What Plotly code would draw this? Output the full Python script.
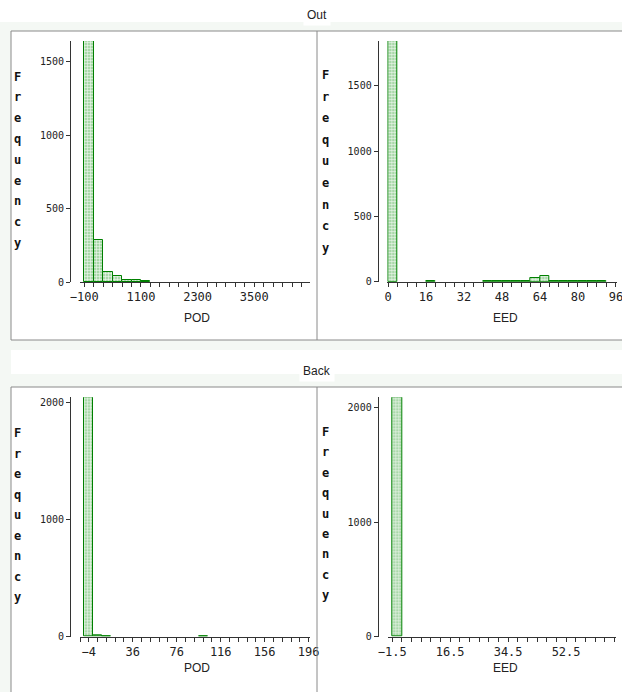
import plotly.graph_objects as go

W, H = 622, 692

# ---------------- data ----------------
out_pod_centers = [0, 200, 400, 600, 800, 1000, 1200]
out_pod_counts = [1640, 285, 65, 43, 15, 15, 6]
out_pod_width = 200

out_eed_centers = [2, 18, 42, 46, 50, 54, 58, 62, 66, 70, 74, 78, 82, 86, 90]
out_eed_counts = [1843, 3, 3, 3, 6, 6, 3, 25, 45, 8, 3, 3, 3, 3, 3]
out_eed_width = 4

back_pod_centers = [-4, 4, 12, 100]
back_pod_counts = [2045, 12, 5, 5]
back_pod_width = 8

back_eed_centers = [0]
back_eed_counts = [2090]
back_eed_width = 3

out_pod_ticks = [-100, 1100, 2300, 3500]
out_eed_ticks = [0, 16, 32, 48, 64, 80, 96]
back_pod_ticks = [-4, 36, 76, 116, 156, 196]
back_eed_ticks = [-1.5, 16.5, 34.5, 52.5]
out_y_ticks = [0, 500, 1000, 1500]
back_y_ticks = [0, 1000, 2000]

# ---------------- helpers ----------------
def px(x):
    return x / W

def py(y):
    return 1 - y / H

BAR_FILL = "#a9d8a9"
BAR_LINE = "#008000"
AX = "#333333"
TICKFONT = dict(family="DejaVu Sans Mono", size=10, color="#222222")
XTICKFONT = dict(family="DejaVu Sans Mono", size=12, color="#222222")

fig = go.Figure()

panels = [
    (out_pod_centers, out_pod_counts, out_pod_width, "x", "y", (80, 310), (282, 41), 70,
     [-191, 4680], [0, 1640], out_pod_ticks, out_y_ticks, 200, -100),
    (out_eed_centers, out_eed_counts, out_eed_width, "x2", "y2", (387.3, 616.7), (281.7, 41), 377.7,
     [-0.3, 96.3], [0, 1843], out_eed_ticks, out_y_ticks, 4, 0),
    (back_pod_centers, back_pod_counts, back_pod_width, "x3", "y3", (80, 310), (636.7, 397.3), 70,
     [-12, 197.2], [0, 2045], back_pod_ticks, back_y_ticks, 8, -4),
    (back_eed_centers, back_eed_counts, back_eed_width, "x4", "y4", (388.3, 616), (636.7, 397.3), 377.7,
     [-2.7, 68], [0, 2090], back_eed_ticks, back_y_ticks, 3, -1.5),
]

def fmt(v):
    s = ("%g" % abs(v))
    return ("−" + s) if v < 0 else s

layout_axes = {}
for i, (cx, cy, wd, xa, ya, xd, yd, ypos, xr, yr, xt, yt, mdt, m0) in enumerate(panels):
    fig.add_trace(go.Bar(
        x=cx, y=cy, width=[wd] * len(cx), xaxis=xa, yaxis=ya,
        marker=dict(color=BAR_FILL, line=dict(color=BAR_LINE, width=1),
                    pattern=dict(shape="+", fgcolor="#eef8ee", bgcolor=BAR_FILL, size=3, solidity=0.35)),
        showlegend=False, hoverinfo="skip"))
    xname = "xaxis" if xa == "x" else "xaxis" + xa[1:]
    yname = "yaxis" if ya == "y" else "yaxis" + ya[1:]
    layout_axes[xname] = dict(
        domain=[px(xd[0]), px(xd[1])], anchor=ya, range=xr, showgrid=False, zeroline=False,
        showline=True, linecolor=AX, linewidth=1, ticks="outside", ticklen=4, tickcolor=AX,
        tickmode="array", tickvals=xt, ticktext=[fmt(v) for v in xt],
        tickfont=XTICKFONT, automargin=False, ticklabeloverflow="allow",
        minor=dict(ticks="outside", ticklen=4, tickcolor=AX, tick0=m0, dtick=mdt, showgrid=False),
        fixedrange=True)
    layout_axes[yname] = dict(
        domain=[py(yd[0]), py(yd[1])], anchor="free", position=px(ypos), range=yr,
        showgrid=False, zeroline=False, showline=True, linecolor=AX, linewidth=1,
        ticks="outside", ticklen=4, tickcolor=AX, tickmode="array", tickvals=yt,
        ticktext=[fmt(v) for v in yt], tickfont=TICKFONT, automargin=False, fixedrange=True)

fig.update_layout(**layout_axes)

# ---------------- background, frames ----------------
TINT = "#f4f8f4"
FRAME = "#8a8a8a"
shapes = []
for (x0, y0, x1, y1) in [(0, 22, W, 31), (0, 22, 11, H), (0, 340, W, 350), (0, 374, W, 387)]:
    shapes.append(dict(type="rect", xref="paper", yref="paper", x0=px(x0), x1=px(x1), y0=py(y1), y1=py(y0),
                       fillcolor=TINT, line=dict(width=0), layer="below"))
shapes.append(dict(type="rect", xref="paper", yref="paper", x0=px(11), x1=px(W + 5), y0=py(340), y1=py(31),
                   line=dict(color=FRAME, width=1), fillcolor="rgba(0,0,0,0)", layer="below"))
shapes.append(dict(type="line", xref="paper", yref="paper", x0=px(317), x1=px(317), y0=py(340), y1=py(31),
                   line=dict(color=FRAME, width=1)))
shapes.append(dict(type="rect", xref="paper", yref="paper", x0=px(11), x1=px(W + 5), y0=py(H + 5), y1=py(387),
                   line=dict(color=FRAME, width=1), fillcolor="rgba(0,0,0,0)", layer="below"))
shapes.append(dict(type="line", xref="paper", yref="paper", x0=px(317), x1=px(317), y0=py(H + 5), y1=py(387),
                   line=dict(color=FRAME, width=1)))

annotations = []
TITLEFONT = dict(family="Liberation Sans", size=12, color="#222222")
for text, x, y in [("Out", 317, 15), ("Back", 317, 371)]:
    annotations.append(dict(text=text, x=px(x), y=py(y), xref="paper", yref="paper", showarrow=False,
                            font=TITLEFONT, xanchor="center", yanchor="middle", bgcolor="white",
                            borderpad=3))
for text, x, y in [("POD", 196.7, 318), ("EED", 505, 318), ("POD", 196.7, 668), ("EED", 505, 668)]:
    annotations.append(dict(text=text, x=px(x), y=py(y), xref="paper", yref="paper", showarrow=False,
                            font=TITLEFONT, xanchor="center", yanchor="middle"))

ylabel = "Frequency"
for (x, ytop, ybot) in [(17, 76.7, 243), (325, 75, 248), (17, 433, 597), (325, 432, 595)]:
    n = len(ylabel)
    for k, ch in enumerate(ylabel):
        yy = ytop + (ybot - ytop) * k / (n - 1)
        annotations.append(dict(text="<b>" + ch + "</b>", x=px(x), y=py(yy), xref="paper", yref="paper",
                                showarrow=False, xanchor="center", yanchor="middle",
                                font=dict(family="DejaVu Sans Mono", size=12, color="#111111")))

fig.update_layout(
    template="none",
    width=W, height=H, margin=dict(l=0, r=0, t=0, b=0, pad=0),
    paper_bgcolor="white", plot_bgcolor="rgba(0,0,0,0)",
    shapes=shapes, annotations=annotations, bargap=0,
)

fig.write_html("out.html", config={"displayModeBar": False})
